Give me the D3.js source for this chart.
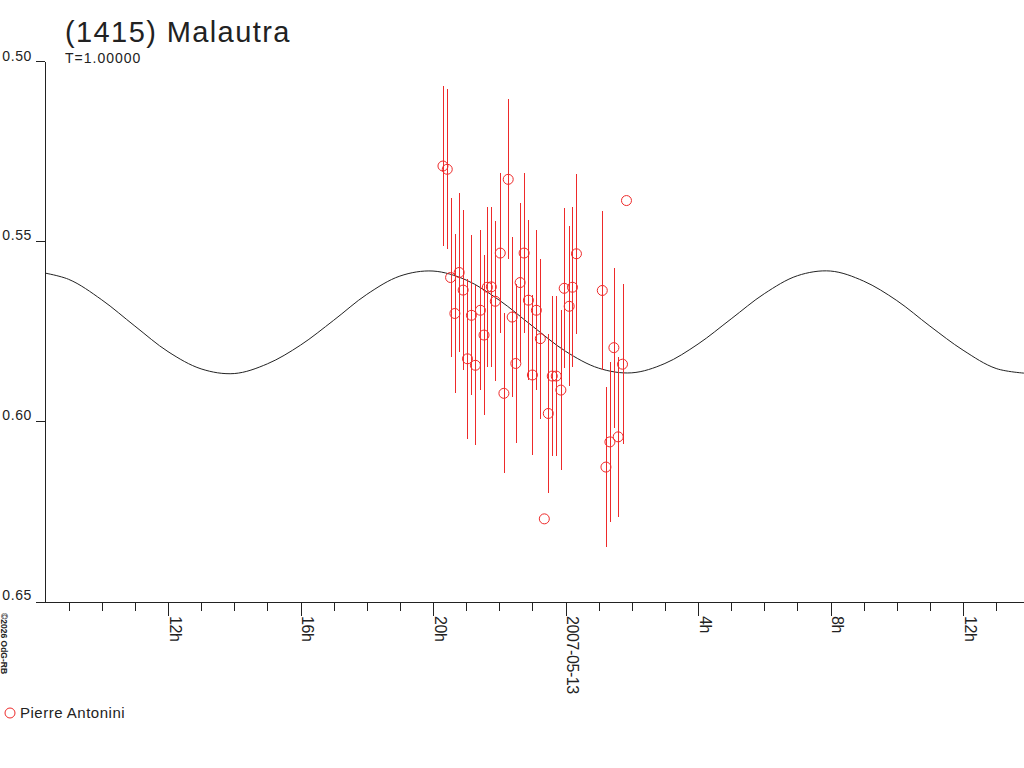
<!DOCTYPE html>
<html>
<head>
<meta charset="utf-8">
<script src="https://cdn.jsdelivr.net/npm/d3@7"></script>
<style>
body{margin:0;background:#fff}
svg{display:block;font-family:"Liberation Sans",Arial,sans-serif}
</style>
</head>
<body>
<svg id="chart" width="1024" height="768"></svg>
<script>
const title = "(1415) Malautra";
const periodLabel = "T=1.00000";
const observer = "Pierre Antonini";
const credit = "\u00a92026 OdG-RB";
const baseDate = Date.parse("2007-05-12T00:00:00Z");
const xDomain = ["2007-05-12T08:17:13Z", "2007-05-13T13:50:24Z"];
const magDomain = [0.50, 0.65];
const magTicks = [0.50, 0.55, 0.60, 0.65];

// hours after 2007-05-12 0h UT
const obsHours = [20.30, 20.43, 20.53, 20.66, 20.79, 20.91, 21.04, 21.16, 21.28, 21.43,
  21.54, 21.64, 21.76, 21.88, 22.03, 22.14, 22.27, 22.39, 22.50, 22.63,
  22.75, 22.88, 23.00, 23.12, 23.24, 23.36, 23.48, 23.60, 23.72, 23.86,
  23.96, 24.11, 24.21, 24.33, 25.11, 25.22, 25.34, 25.46, 25.59, 25.72, 25.84];
const obsMag = [0.5292, 0.5301, 0.5602, 0.5702, 0.5588, 0.5637, 0.5828, 0.5707, 0.5846, 0.5693,
  0.5762, 0.5629, 0.5628, 0.5668, 0.5534, 0.5924, 0.5329, 0.5712, 0.5841, 0.5616,
  0.5534, 0.5665, 0.5873, 0.5693, 0.5772, 0.6273, 0.5980, 0.5876, 0.5876, 0.5915,
  0.5632, 0.5682, 0.5629, 0.5536, 0.5638, 0.6129, 0.6059, 0.5797, 0.6045, 0.5843, 0.5388];
const obsErr = [0.0222, 0.0222, 0.0222, 0.0222, 0.0222, 0.0222, 0.0222, 0.0222, 0.0222, 0.0222,
  0.0222, 0.0222, 0.0222, 0.0222, 0.0222, 0.0222, 0.0222, 0.0222, 0.0222, 0.0222,
  0.0222, 0.0222, 0.0222, 0.0222, 0.0222, 0, 0.0222, 0.0222, 0.0222, 0.0222,
  0.0222, 0.0222, 0.0222, 0.0222, 0.0222, 0.0222, 0.0222, 0.0222, 0.0222, 0.0222, 0];

// fitted lightcurve, read hourly
const fitHours = [8, 9, 10, 11, 12, 13, 14, 15, 16, 17, 18, 19, 20, 21, 22, 23,
  24, 25, 26, 27, 28, 29, 30, 31, 32, 33, 34, 35, 36, 37, 38];
const fitMag = [0.5585, 0.5607, 0.5664, 0.5737, 0.5808, 0.5856, 0.5869, 0.5842, 0.5790, 0.5721,
  0.5649, 0.5598, 0.5584, 0.5609, 0.5665, 0.5737, 0.5807, 0.5854, 0.5867, 0.5841,
  0.5787, 0.5717, 0.5647, 0.5597, 0.5584, 0.5612, 0.5666, 0.5737, 0.5804, 0.5855, 0.5869];

const red = "#ee2a2a";
const ink = "#222";
const toDate = h => new Date(baseDate + h * 3600e3);

const svg = d3.select("#chart");
const plotL = 45, plotR = 1024, plotT = 61, plotB = 602;

const x = d3.scaleUtc().domain(xDomain.map(d => new Date(d))).range([plotL, plotR]);
const y = d3.scaleLinear().domain(magDomain).range([plotT, 600.5]);

svg.append("defs").append("clipPath").attr("id", "plot")
  .append("rect").attr("x", plotL).attr("y", 0).attr("width", plotR - plotL).attr("height", plotB);

// fit curve
const line = d3.line()
  .x((d, i) => x(toDate(fitHours[i])))
  .y(d => y(d))
  .curve(d3.curveCatmullRom.alpha(0.5));

svg.append("path")
  .datum(fitMag)
  .attr("clip-path", "url(#plot)")
  .attr("fill", "none")
  .attr("stroke", ink)
  .attr("stroke-width", 1)
  .attr("d", line);

// observations
const obs = obsHours.map((h, i) => ({t: toDate(h), m: obsMag[i], e: obsErr[i]}));
const g = svg.append("g");

g.selectAll("line")
  .data(obs.filter(d => d.e > 0))
  .enter()
  .append("line")
  .attr("stroke", red)
  .attr("stroke-width", 1)
  .attr("shape-rendering", "crispEdges")
  .attr("x1", d => Math.round(x(d.t)) + 0.5)
  .attr("x2", d => Math.round(x(d.t)) + 0.5)
  .attr("y1", d => y(d.m - d.e))
  .attr("y2", d => y(d.m + d.e));

g.selectAll("circle")
  .data(obs)
  .enter()
  .append("circle")
  .attr("fill", "none")
  .attr("stroke", red)
  .attr("stroke-width", 1)
  .attr("cx", d => x(d.t))
  .attr("cy", d => y(d.m))
  .attr("r", 5);

// y axis
const yAxis = svg.append("g")
  .attr("transform", `translate(${plotL},0)`)
  .call(d3.axisLeft(y).tickValues(magTicks).tickFormat(d3.format(".2f")).tickSize(9).tickSizeOuter(0));

yAxis.select(".domain").attr("d", `M0.5,${plotT + 0.5}V${plotB + 0.5}`);
// bottom tick sits on the time axis
yAxis.selectAll(".tick line").filter(d => d === 0.65).attr("y1", 1).attr("y2", 1);

// x axis
const hourTicks = d3.utcHour.every(1).range(x.domain()[0], x.domain()[1]);
const xLabel = d => {
  const h = d.getUTCHours();
  if (h === 0) return d3.utcFormat("%Y-%m-%d")(d);
  return h % 4 === 0 ? h + "h" : "";
};
const xAxis = svg.append("g")
  .attr("transform", `translate(0,${plotB})`)
  .call(d3.axisBottom(x).tickValues(hourTicks).tickFormat(xLabel).tickSize(9).tickSizeOuter(0));

svg.selectAll("g").attr("font-family", null).attr("font-size", null);

svg.selectAll(".domain, .tick line")
  .attr("stroke", ink)
  .attr("shape-rendering", "crispEdges");

xAxis.selectAll(".tick line")
  .attr("y2", d => d.getUTCHours() % 4 === 0 ? 14 : 9);

xAxis.selectAll(".tick text")
  .attr("transform", "rotate(90)")
  .attr("text-anchor", "start")
  .attr("x", 14)
  .attr("y", -1)
  .attr("dy", null)
  .attr("fill", ink)
  .style("font-size", "16px")
  .style("letter-spacing", "-0.4px");

yAxis.selectAll(".tick text")
  .attr("x", -13)
  .attr("y", -1)
  .attr("dy", null)
  .attr("fill", ink)
  .style("font-size", "14px")
  .style("letter-spacing", "0.6px");

// titles
svg.append("text")
  .attr("x", 65).attr("y", 42)
  .attr("fill", ink)
  .style("font-size", "29px")
  .style("letter-spacing", "1.4px")
  .text(title);

svg.append("text")
  .attr("x", 65).attr("y", 63)
  .attr("fill", ink)
  .style("font-size", "14px")
  .style("letter-spacing", "1px")
  .text(periodLabel);

// legend
svg.append("circle")
  .attr("cx", 10).attr("cy", 713).attr("r", 5)
  .attr("fill", "none").attr("stroke", red);

svg.append("text")
  .attr("x", 20).attr("y", 718)
  .attr("fill", ink)
  .style("font-size", "15px")
  .style("letter-spacing", "0.5px")
  .text(observer);

svg.append("text")
  .attr("transform", "translate(1,613) rotate(90)")
  .attr("fill", ink)
  .style("font-size", "8.5px")
  .style("font-weight", "bold")
  .text(credit);
</script>
</body>
</html>
